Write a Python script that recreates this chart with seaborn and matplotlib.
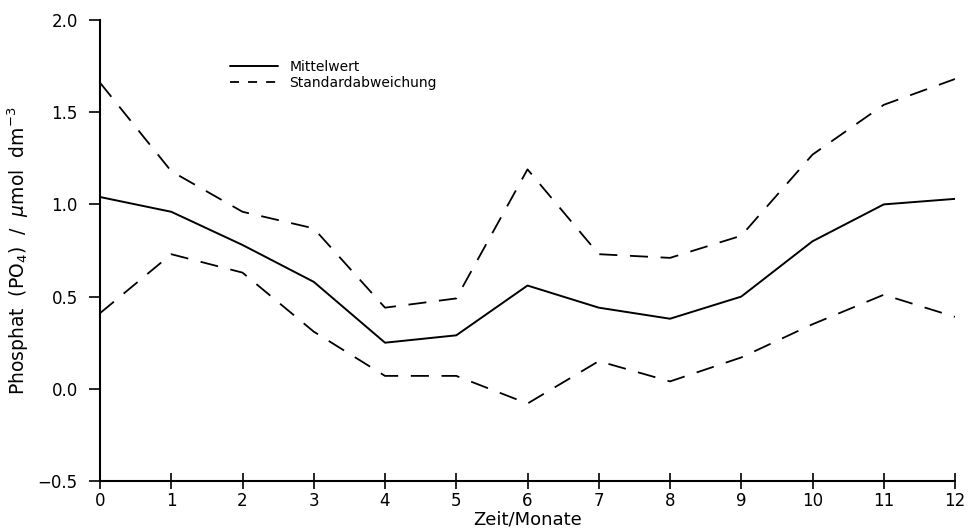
import matplotlib
matplotlib.use("Agg")
import matplotlib.pyplot as plt
import seaborn as sns
import pandas as pd

# Data (months 0..12)
months = [0, 1, 2, 3, 4, 5, 6, 7, 8, 9, 10, 11, 12]
mittelwert = [1.04, 0.96, 0.78, 0.58, 0.25, 0.29, 0.56, 0.44, 0.38, 0.50, 0.80, 1.00, 1.03]
obere_sd = [1.66, 1.18, 0.96, 0.87, 0.44, 0.49, 1.19, 0.73, 0.71, 0.83, 1.27, 1.54, 1.68]
untere_sd = [0.41, 0.73, 0.63, 0.31, 0.07, 0.07, -0.08, 0.15, 0.04, 0.17, 0.35, 0.51, 0.39]
x_ticks = list(range(0, 13))
y_ticks = [-0.5, 0.0, 0.5, 1.0, 1.5, 2.0]

sns.set_style("ticks")
plt.rcParams["font.family"] = ["DejaVu Sans"]
plt.rcParams["text.color"] = "black"
plt.rcParams["axes.labelcolor"] = "black"

df = pd.DataFrame({"Monat": months, "Mittelwert": mittelwert,
                   "Oben": obere_sd, "Unten": untere_sd})

fig = plt.figure(figsize=(9.72, 5.29), dpi=100)
ax = fig.add_axes([100 / 972, 1 - 481 / 529, 855 / 972, 461 / 529])

sns.lineplot(data=df, x="Monat", y="Mittelwert", ax=ax, color="black",
             linewidth=1.4, label="Mittelwert")
sns.lineplot(data=df, x="Monat", y="Oben", ax=ax, color="black",
             linewidth=1.3, label="Standardabweichung")
sns.lineplot(data=df, x="Monat", y="Unten", ax=ax, color="black",
             linewidth=1.3, label="_nolegend_")
for ln in ax.get_lines()[1:3]:
    ln.set_dashes((10, 7))

ax.set_xlim(0, 12)
ax.set_ylim(-0.5, 2.0)
ax.set_xticks(x_ticks)
ax.set_yticks(y_ticks)
ax.set_yticklabels([f"{v:.1f}".replace("-", "\u2212") for v in y_ticks])
ax.tick_params(axis="x", direction="inout", length=12, width=1.2,
               labelsize=12, pad=2, colors="black")
ax.tick_params(axis="y", direction="out", length=8, width=1.2,
               labelsize=12, pad=8, colors="black")
for s in ["top", "right"]:
    ax.spines[s].set_visible(False)
for s in ["left", "bottom"]:
    ax.spines[s].set_linewidth(1.5)
    ax.spines[s].set_color("black")

ax.set_xlabel("Zeit/Monate", fontsize=13, labelpad=0)
ax.set_ylabel("Phosphat  (PO$_4$)  /  $\\mu$mol  dm$^{-3}$", fontsize=13.5,
              labelpad=5)

leg = ax.legend(loc="upper left", bbox_to_anchor=(0.145, 0.925), frameon=False,
                fontsize=10, handlelength=3.5, handletextpad=0.8,
                labelspacing=0.1, borderaxespad=0)
for h in leg.get_lines():
    h.set_color("black")
leg.get_lines()[1].set_dashes((5, 5))

fig.savefig("out.png", dpi=100)
